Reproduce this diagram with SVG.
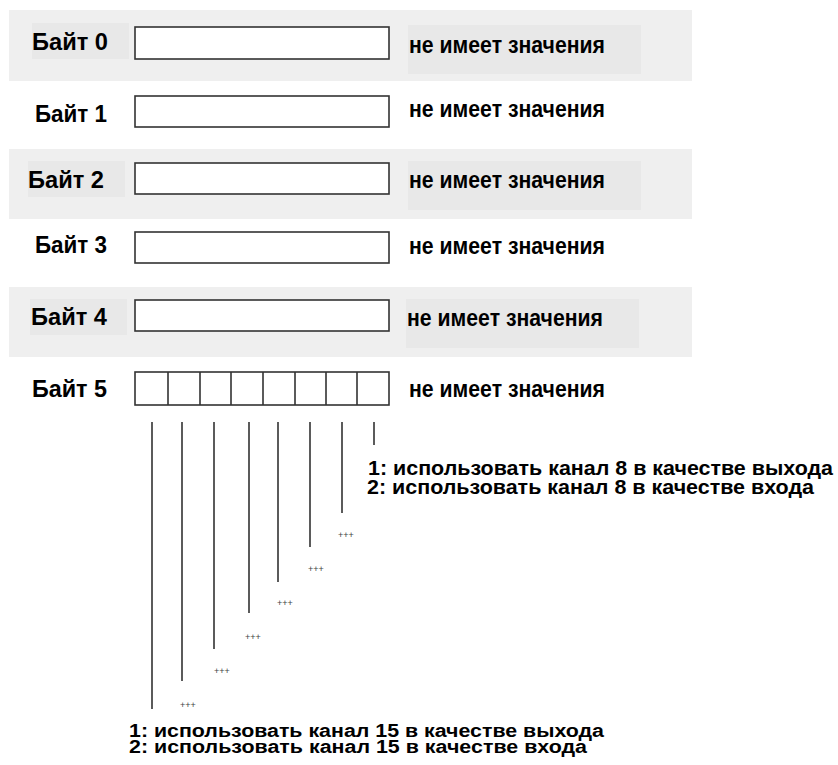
<svg xmlns="http://www.w3.org/2000/svg" width="838" height="765" viewBox="0 0 838 765">
<style>
text{font-family:"Liberation Sans",Arial,sans-serif;font-weight:bold;fill:#000}
.lbl{font-size:24px}
.val{font-size:23px}
.note{font-size:19.5px}
.note2{font-size:18px}
.band{fill:#efefef}
.tbg{fill:#e8e8e8}
.box{fill:#fff;stroke:#333;stroke-width:1.6}
.ln{stroke:#333;stroke-width:1.6;fill:none}
.pp{font-size:9px;font-weight:normal;fill:#444}
</style>
<rect width="838" height="765" fill="#fff"/>
<g id="byte0">
<rect class="band" x="9" y="10" width="683" height="71"/>
<rect class="tbg" x="32" y="23" width="97" height="36"/>
<rect class="tbg" x="408" y="25" width="233" height="49"/>
<text class="lbl" x="32" y="50" textLength="76" lengthAdjust="spacingAndGlyphs">Байт 0</text>
<rect class="box" x="135" y="27" width="254" height="32"/>
<text class="val" x="409" y="53" textLength="196" lengthAdjust="spacingAndGlyphs">не имеет значения</text>
</g>
<g id="byte1">
<text class="lbl" x="35" y="122" textLength="72" lengthAdjust="spacingAndGlyphs">Байт 1</text>
<rect class="box" x="135" y="96" width="254" height="31"/>
<text class="val" x="409" y="117" textLength="196" lengthAdjust="spacingAndGlyphs">не имеет значения</text>
</g>
<g id="byte2">
<rect class="band" x="9" y="149" width="683" height="70"/>
<rect class="tbg" x="28" y="161" width="97" height="36"/>
<rect class="tbg" x="408" y="161" width="233" height="49"/>
<text class="lbl" x="28" y="188" textLength="76" lengthAdjust="spacingAndGlyphs">Байт 2</text>
<rect class="box" x="135" y="163" width="254" height="31"/>
<text class="val" x="409" y="188" textLength="196" lengthAdjust="spacingAndGlyphs">не имеет значения</text>
</g>
<g id="byte3">
<text class="lbl" x="35" y="253" textLength="72" lengthAdjust="spacingAndGlyphs">Байт 3</text>
<rect class="box" x="135" y="232" width="254" height="31"/>
<text class="val" x="409" y="254" textLength="196" lengthAdjust="spacingAndGlyphs">не имеет значения</text>
</g>
<g id="byte4">
<rect class="band" x="9" y="287" width="683" height="70"/>
<rect class="tbg" x="30" y="299" width="97" height="36"/>
<rect class="tbg" x="406" y="299" width="233" height="49"/>
<text class="lbl" x="31" y="325" textLength="76" lengthAdjust="spacingAndGlyphs">Байт 4</text>
<rect class="box" x="135" y="300" width="254" height="31"/>
<text class="val" x="407" y="326" textLength="196" lengthAdjust="spacingAndGlyphs">не имеет значения</text>
</g>
<g id="byte5">
<text class="lbl" x="32" y="397" textLength="75" lengthAdjust="spacingAndGlyphs">Байт 5</text>
<rect class="box" x="135" y="372" width="254" height="33"/>
<path class="ln" d="M168 372V405M200 372V405M231 372V405M263 372V405M295 372V405M326 372V405M357 372V405"/>
<text class="val" x="409" y="397" textLength="196" lengthAdjust="spacingAndGlyphs">не имеет значения</text>
</g>
<g id="connectors">
<path class="ln" d="M152 422V709M182 422V681M214 422V649M249 422V613M278 422V582M310 422V547M342 422V513M374 422V445"/>
</g>
<g id="markers">
<text class="pp" x="346" y="538" text-anchor="middle">+++</text>
<text class="pp" x="316" y="572" text-anchor="middle">+++</text>
<text class="pp" x="285" y="606" text-anchor="middle">+++</text>
<text class="pp" x="253" y="640" text-anchor="middle">+++</text>
<text class="pp" x="222" y="674" text-anchor="middle">+++</text>
<text class="pp" x="188" y="708" text-anchor="middle">+++</text>
</g>
<g id="note8">
<text class="note" x="368" y="475" textLength="465" lengthAdjust="spacingAndGlyphs">1: использовать канал 8 в качестве выхода</text>
<text class="note" x="367" y="494" textLength="447" lengthAdjust="spacingAndGlyphs">2: использовать канал 8 в качестве входа</text>
</g>
<g id="note15">
<text class="note2" x="129" y="737" textLength="475" lengthAdjust="spacingAndGlyphs">1: использовать канал 15 в качестве выхода</text>
<text class="note2" x="129" y="753" textLength="458" lengthAdjust="spacingAndGlyphs">2: использовать канал 15 в качестве входа</text>
</g>
</svg>
